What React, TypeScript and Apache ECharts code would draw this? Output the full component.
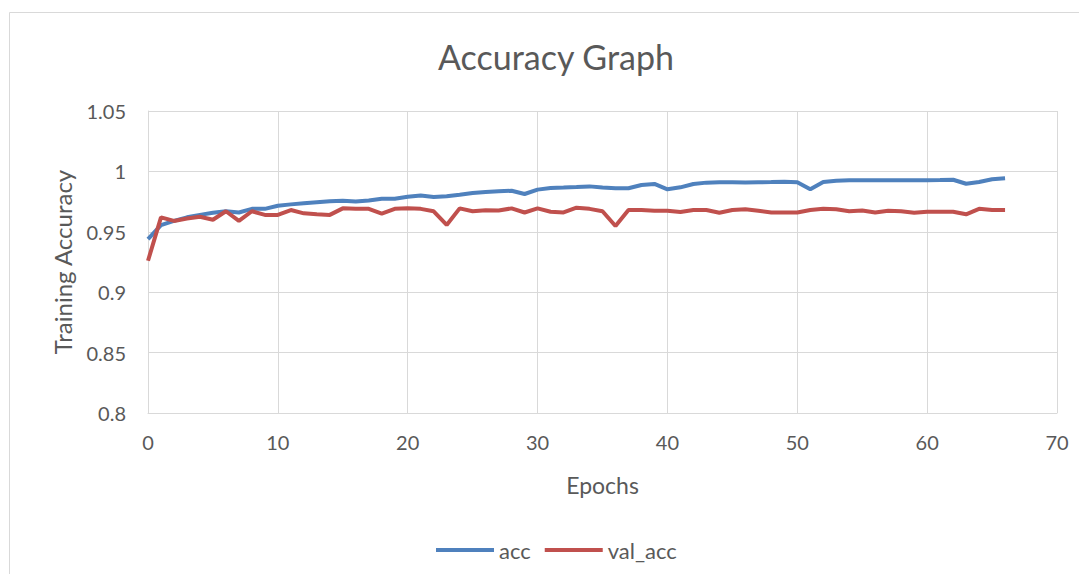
import React, { useEffect, useRef } from "react";
import * as echarts from "echarts";

// Epoch index 0..66
const epochs: number[] = Array.from({ length: 67 }, (_, i) => i);

const acc: number[] = [
  0.944, 0.9556, 0.959, 0.962, 0.964, 0.9658, 0.967, 0.966, 0.969, 0.969,
  0.9716, 0.9727, 0.9736, 0.9744, 0.9752, 0.9758, 0.975, 0.976, 0.9774, 0.9774,
  0.979, 0.98, 0.9788, 0.9794, 0.9807, 0.9821, 0.983, 0.9835, 0.984, 0.9813,
  0.9849, 0.9863, 0.9866, 0.987, 0.9876, 0.9866, 0.986, 0.986, 0.9887, 0.9896,
  0.9852, 0.9868, 0.9896, 0.9907, 0.991, 0.991, 0.9908, 0.991, 0.9912, 0.9915,
  0.991, 0.9852, 0.9912, 0.9923, 0.9926, 0.9926, 0.9926, 0.9926, 0.9926, 0.9926,
  0.9927, 0.9928, 0.9931, 0.9898, 0.9912, 0.9935, 0.9943,
];

const valAcc: number[] = [
  0.926, 0.962, 0.959, 0.961, 0.9625, 0.96, 0.967, 0.959, 0.967, 0.964,
  0.964, 0.968, 0.9653, 0.9645, 0.964, 0.9694, 0.969, 0.969, 0.965, 0.969,
  0.9694, 0.969, 0.967, 0.9557, 0.9694, 0.967, 0.9678, 0.9677, 0.9694, 0.966,
  0.9694, 0.9666, 0.966, 0.97, 0.969, 0.967, 0.9548, 0.968, 0.968, 0.9675,
  0.9675, 0.9664, 0.968, 0.968, 0.9658, 0.968, 0.9686, 0.9675, 0.966, 0.966,
  0.966, 0.968, 0.969, 0.9686, 0.967, 0.9677, 0.966, 0.9675, 0.967, 0.9658,
  0.9666, 0.9666, 0.9666, 0.9645, 0.969, 0.968, 0.968,
];

const TEXT = "#595959";
const GRID = "#d9d9d9";
const FONT = "Lato, 'Open Sans', sans-serif";

export default function App() {
  const ref = useRef<HTMLDivElement>(null);

  useEffect(() => {
    if (!ref.current) return;
    const chart = echarts.init(ref.current, undefined, { renderer: "svg" });
    chart.setOption({
      animation: false,
      backgroundColor: "#ffffff",
      textStyle: { fontFamily: FONT, color: TEXT },
      title: {
        text: "Accuracy Graph",
        left: 551,
        textAlign: "center",
        top: 34,
        textStyle: { fontFamily: FONT, fontSize: 34, fontWeight: "normal", color: TEXT },
      },
      graphic: [
        {
          type: "rect",
          shape: { x: 9.5, y: 12.5, width: 1090, height: 600 },
          style: { fill: "none", stroke: GRID, lineWidth: 1 },
          silent: true,
        },
      ],
      grid: { left: 148, right: 30, top: 111, bottom: 169, containLabel: false },
      legend: {
        bottom: 16,
        left: 431,
        itemWidth: 58,
        itemHeight: 4,
        itemGap: 14,
        icon: "rect",
        textStyle: { fontFamily: FONT, fontSize: 22, color: TEXT },
        data: ["acc", "val_acc"],
      },
      xAxis: {
        type: "value",
        min: 0,
        max: 70,
        interval: 10,
        name: "Epochs",
        nameLocation: "middle",
        nameGap: 60,
        nameTextStyle: { fontFamily: FONT, fontSize: 23, color: TEXT },
        axisLine: { show: true, lineStyle: { color: GRID, width: 1 } },
        axisTick: { show: false },
        axisLabel: { fontFamily: FONT, fontSize: 20, color: TEXT, margin: 19 },
        splitLine: { show: true, lineStyle: { color: GRID, width: 1 } },
      },
      yAxis: {
        type: "value",
        min: 0.8,
        max: 1.05,
        interval: 0.05,
        name: "Training Accuracy",
        nameLocation: "middle",
        nameGap: 74,
        nameTextStyle: { fontFamily: FONT, fontSize: 24, color: TEXT },
        axisLine: { show: true, lineStyle: { color: GRID, width: 1 } },
        axisTick: { show: false },
        axisLabel: {
          fontFamily: FONT,
          fontSize: 20,
          color: TEXT,
          margin: 22,
          formatter: (v: number) => String(parseFloat(v.toFixed(2))),
        },
        splitLine: { show: true, lineStyle: { color: GRID, width: 1 } },
      },
      series: [
        {
          name: "acc",
          type: "line",
          data: epochs.map((e, i) => [e, acc[i]]),
          showSymbol: false,
          symbol: "none",
          lineStyle: { color: "#4f81bd", width: 4 },
          itemStyle: { color: "#4f81bd" },
        },
        {
          name: "val_acc",
          type: "line",
          data: epochs.map((e, i) => [e, valAcc[i]]),
          showSymbol: false,
          symbol: "none",
          lineStyle: { color: "#c0504d", width: 4 },
          itemStyle: { color: "#c0504d" },
        },
      ],
    });
    return () => chart.dispose();
  }, []);

  return <div ref={ref} style={{ width: 1087, height: 582, margin: -8 }} />;
}
